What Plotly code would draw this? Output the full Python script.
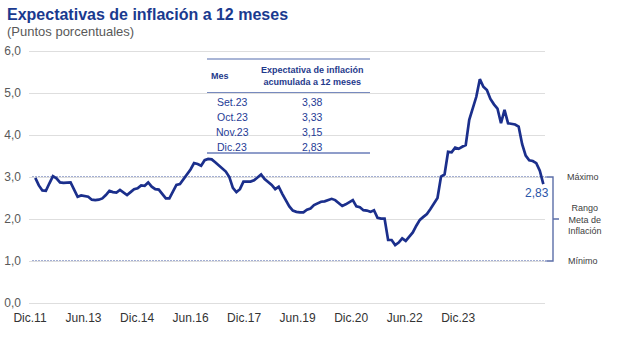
import plotly.graph_objects as go

# Monthly 12-month inflation expectations, Dec 2011 .. Dec 2023 (percentage points)
expectativas = [
    2.98, 2.80, 2.68, 2.67, 2.85, 3.02, 2.97, 2.87, 2.86, 2.86, 2.87, 2.70,  # Dic.11 - Nov.12
    2.53, 2.56, 2.55, 2.53, 2.46, 2.45, 2.46, 2.49, 2.57, 2.67, 2.64, 2.63,  # Dic.12 - Nov.13
    2.69, 2.62, 2.57, 2.64, 2.71, 2.73, 2.80, 2.79, 2.87, 2.77, 2.71, 2.70,  # Dic.13 - Nov.14
    2.58, 2.49, 2.49, 2.65, 2.81, 2.83, 2.94, 3.05, 3.18, 3.33, 3.31, 3.27,  # Dic.14 - Nov.15
    3.40, 3.43, 3.42, 3.35, 3.27, 3.20, 3.13, 3.00, 2.74, 2.64, 2.71, 2.89,  # Dic.15 - Nov.16
    2.89, 2.89, 2.92, 2.99, 3.06, 2.95, 2.88, 2.81, 2.71, 2.77, 2.60, 2.45,  # Dic.16 - Nov.17
    2.30, 2.20, 2.17, 2.16, 2.16, 2.22, 2.25, 2.33, 2.37, 2.41, 2.42, 2.45,  # Dic.17 - Nov.18
    2.48, 2.45, 2.38, 2.31, 2.35, 2.41, 2.45, 2.30, 2.28, 2.21, 2.20, 2.17,  # Dic.18 - Nov.19
    2.21, 2.03, 2.01, 2.01, 1.50, 1.50, 1.38, 1.44, 1.54, 1.48, 1.58, 1.68,  # Dic.19 - Nov.20
    1.84, 1.98, 2.05, 2.12, 2.24, 2.36, 2.50, 3.01, 3.06, 3.60, 3.59, 3.70,  # Dic.20 - Nov.21
    3.67, 3.72, 3.76, 4.36, 4.63, 4.91, 5.33, 5.15, 5.07, 4.86, 4.73, 4.63,  # Dic.21 - Nov.22
    4.28, 4.60, 4.28, 4.27, 4.25, 4.20, 3.78, 3.51, 3.40, 3.38, 3.33, 3.15,  # Dic.22 - Nov.23
    2.83,                                                                    # Dic.23
]
meses_idx = list(range(len(expectativas)))

# Axis labels
x_tick_labels = ["Dic.11", "Jun.13", "Dic.14", "Jun.16", "Dic.17",
                 "Jun.19", "Dic.20", "Jun.22", "Dic.23"]
y_ticks = [0, 1, 2, 3, 4, 5, 6]

# Inflation target range
meta_min = 1.0
meta_max = 3.0

# Summary table
tabla_meses = ["Set.23", "Oct.23", "Nov.23", "Dic.23"]
tabla_valores = [3.38, 3.33, 3.15, 2.83]

W, H = 620, 338
ML, MR, MT, MB = 29, 75, 47, 31
PW, PH = W - ML - MR, H - MT - MB
X0_PX, PX_PER_MONTH = 35.3, 3.528          # pixel position of first month, spacing
Y0_PX, PX_PER_UNIT = 303, 42               # pixel position of 0,0 and spacing per point

FONT = "Liberation Sans, Arial, sans-serif"
NAVY = "#1b2f8c"
TABLE_BLUE = "#1f3c96"


def px(xp):
    return (xp - ML) / PW


def py(yp):
    return (H - MB - yp) / PH


def fmt(v):
    return f"{v:.2f}".replace(".", ",")


x_lo = (ML - X0_PX) / PX_PER_MONTH
x_hi = (W - MR - X0_PX) / PX_PER_MONTH
y_lo = (Y0_PX - (H - MB)) / PX_PER_UNIT
y_hi = (Y0_PX - MT) / PX_PER_UNIT

tick_start, tick_step = -1.5, 15.17
x_tick_vals = [tick_start + k * tick_step for k in range(len(x_tick_labels))]

fig = go.Figure()
fig.add_trace(go.Scatter(
    x=meses_idx, y=expectativas, mode="lines",
    line=dict(color=NAVY, width=2.7),
    hoverinfo="skip", showlegend=False,
))

shapes = []
# target range limits (dotted)
for lvl in (meta_min, meta_max):
    shapes.append(dict(type="line", xref="paper", yref="y",
                       x0=px(32), x1=px(547), y0=lvl, y1=lvl,
                       line=dict(color="#8594c4", width=1.5, dash="2px,1px"),
                       layer="between"))

# bracket for the target range
y_top = Y0_PX - PX_PER_UNIT * meta_max
y_bot = Y0_PX - PX_PER_UNIT * meta_min
y_mid = (y_top + y_bot) / 2
bracket = (f"M {px(547)} {py(y_top)} L {px(553)} {py(y_top)} "
           f"L {px(553)} {py(y_bot)} L {px(547)} {py(y_bot)} "
           f"M {px(553)} {py(y_mid)} L {px(559)} {py(y_mid)}")
shapes.append(dict(type="path", xref="paper", yref="paper", path=bracket,
                   line=dict(color="#5b6ea8", width=1.4)))

# table background and rules
shapes.append(dict(type="rect", xref="paper", yref="paper",
                   x0=px(207), x1=px(370), y0=py(153), y1=py(59),
                   fillcolor="white", line=dict(width=0), layer="between"))
shapes.append(dict(type="line", xref="paper", yref="paper",
                   x0=px(207), x1=px(370), y0=py(59), y1=py(59),
                   line=dict(color="#8d9dc8", width=1.5), layer="between"))
shapes.append(dict(type="line", xref="paper", yref="paper",
                   x0=px(207), x1=px(370), y0=py(93), y1=py(93),
                   line=dict(color="#4a63a8", width=1.5), layer="between"))
shapes.append(dict(type="line", xref="paper", yref="paper",
                   x0=px(207), x1=px(370), y0=py(153), y1=py(153),
                   line=dict(color="#6a7db8", width=1.5), layer="between"))

ann = []
# title and subtitle
ann.append(dict(xref="paper", yref="paper", x=px(5), y=py(14),
                xanchor="left", yanchor="middle", showarrow=False,
                text="<b>Expectativas de inflación a 12 meses</b>",
                font=dict(family=FONT, size=16, color="#1a3a8f")))
ann.append(dict(xref="paper", yref="paper", x=px(5), y=py(31),
                xanchor="left", yanchor="middle", showarrow=False,
                text="(Puntos porcentuales)",
                font=dict(family=FONT, size=13, color="#595959")))

# table header
ann.append(dict(xref="paper", yref="paper", x=px(220), y=py(76),
                xanchor="center", yanchor="middle", showarrow=False,
                text="<b>Mes</b>",
                font=dict(family=FONT, size=9, color="#1f3a8c")))
ann.append(dict(xref="paper", yref="paper", x=px(312), y=py(76),
                xanchor="center", yanchor="middle", showarrow=False,
                text="<b>Expectativa de inflación<br>acumulada a 12 meses</b>",
                font=dict(family=FONT, size=9, color="#1f3a8c")))
# table rows
for k, (m, v) in enumerate(zip(tabla_meses, tabla_valores)):
    yrow = 102 + 15 * k
    ann.append(dict(xref="paper", yref="paper", x=px(232), y=py(yrow),
                    xanchor="center", yanchor="middle", showarrow=False,
                    text=m, font=dict(family=FONT, size=10.5, color=TABLE_BLUE)))
    ann.append(dict(xref="paper", yref="paper", x=px(312), y=py(yrow),
                    xanchor="center", yanchor="middle", showarrow=False,
                    text=fmt(v), font=dict(family=FONT, size=10.5, color=TABLE_BLUE)))

# last value label
ann.append(dict(xref="x", yref="y", x=meses_idx[-1], y=expectativas[-1],
                xanchor="right", yanchor="middle", xshift=8, yshift=-9,
                showarrow=False, text=fmt(expectativas[-1]),
                font=dict(family=FONT, size=12, color="#2a55a8")))

# target range labels
ann.append(dict(xref="paper", yref="y", x=px(583), y=meta_max,
                xanchor="center", yanchor="middle", showarrow=False,
                text="Máximo", font=dict(family=FONT, size=9, color="#404040")))
ann.append(dict(xref="paper", yref="y", x=px(585), y=(meta_max + meta_min) / 2,
                xanchor="center", yanchor="middle", showarrow=False,
                text="Rango<br>Meta de<br>Inflación",
                font=dict(family=FONT, size=9, color="#404040")))
ann.append(dict(xref="paper", yref="y", x=px(583), y=meta_min,
                xanchor="center", yanchor="middle", showarrow=False,
                text="Mínimo", font=dict(family=FONT, size=9, color="#404040")))

fig.update_layout(
    width=W, height=H,
    margin=dict(l=ML, r=MR, t=MT, b=MB, pad=0),
    paper_bgcolor="white", plot_bgcolor="white",
    separators=",.",
    font=dict(family=FONT),
    shapes=shapes, annotations=ann,
    xaxis=dict(range=[x_lo, x_hi], showgrid=False, zeroline=False,
               showline=False, tickmode="array", tickvals=x_tick_vals,
               ticktext=x_tick_labels, ticks="", ticklabelstandoff=2,
               automargin=False,
               tickfont=dict(family=FONT, size=12, color="#333333")),
    yaxis=dict(range=[y_lo, y_hi], tickmode="array", tickvals=y_ticks,
               tickformat=".1f", showgrid=True, gridcolor="#dedede",
               gridwidth=1, zeroline=False, showline=False, ticks="",
               ticklabelstandoff=7, automargin=False,
               tickfont=dict(family=FONT, size=12, color="#595959")),
)

fig.write_html("out.html")
